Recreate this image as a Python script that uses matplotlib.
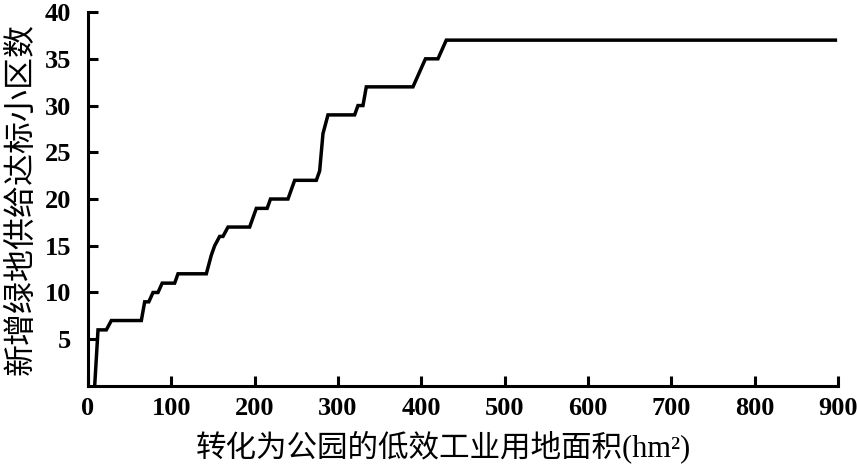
import matplotlib
matplotlib.use("Agg")
import matplotlib.pyplot as plt

# area of low-efficiency industrial land converted to parks (hm2)
area = [8, 12, 22, 28, 64, 68, 73, 78, 84, 89, 104, 108, 142, 148, 152, 158,
        162, 168, 194, 202, 215, 219, 240, 244, 248, 274, 278, 282, 285, 288,
        320, 324, 330, 334, 390, 405, 420, 430, 897]
# number of newly compliant residential districts
count = [0, 6, 6, 7, 7, 9, 9, 10, 10, 11, 11, 12, 12, 14, 15, 16,
         16, 17, 17, 19, 19, 20, 20, 21, 22, 22, 23, 27, 28, 29,
         29, 30, 30, 32, 32, 35, 35, 37, 37]

x_ticks = list(range(0, 901, 100))
y_ticks = list(range(5, 41, 5))

XLABEL = "转化为公园的低效工业用地面积(hm²)"
YLABEL = "新增绿地供给达标小区数"

num_font = ["Liberation Serif", "DejaVu Serif"]
cjk_font = ["Liberation Serif", "Noto Sans CJK SC", "DejaVu Sans"]

fig = plt.figure(figsize=(8.57, 4.65), dpi=100)
ax = fig.add_axes([0.1027, 0.170, 0.875, 0.804])

ax.plot(area, count, color="black", linewidth=2.5, solid_joinstyle="miter")

ax.set_xlim(0, 900)
ax.set_ylim(0, 40)
ax.set_xticks(x_ticks)
ax.set_yticks(y_ticks)

for side in ("top", "right"):
    ax.spines[side].set_visible(False)
for side in ("left", "bottom"):
    ax.spines[side].set_linewidth(2.2)

ax.tick_params(direction="in", length=7, width=2.2, labelsize=19)
ax.tick_params(axis="x", pad=8)
ax.tick_params(axis="y", pad=12)
for lab in ax.get_xticklabels() + ax.get_yticklabels():
    lab.set_family(num_font)
    lab.set_fontweight("bold")

ax.set_xlabel(XLABEL, family=cjk_font, fontsize=22)
ax.xaxis.set_label_coords(0.474, -0.118)
ax.set_ylabel(YLABEL, family=cjk_font, fontsize=23, labelpad=6)

fig.savefig("out.png", dpi=100)
